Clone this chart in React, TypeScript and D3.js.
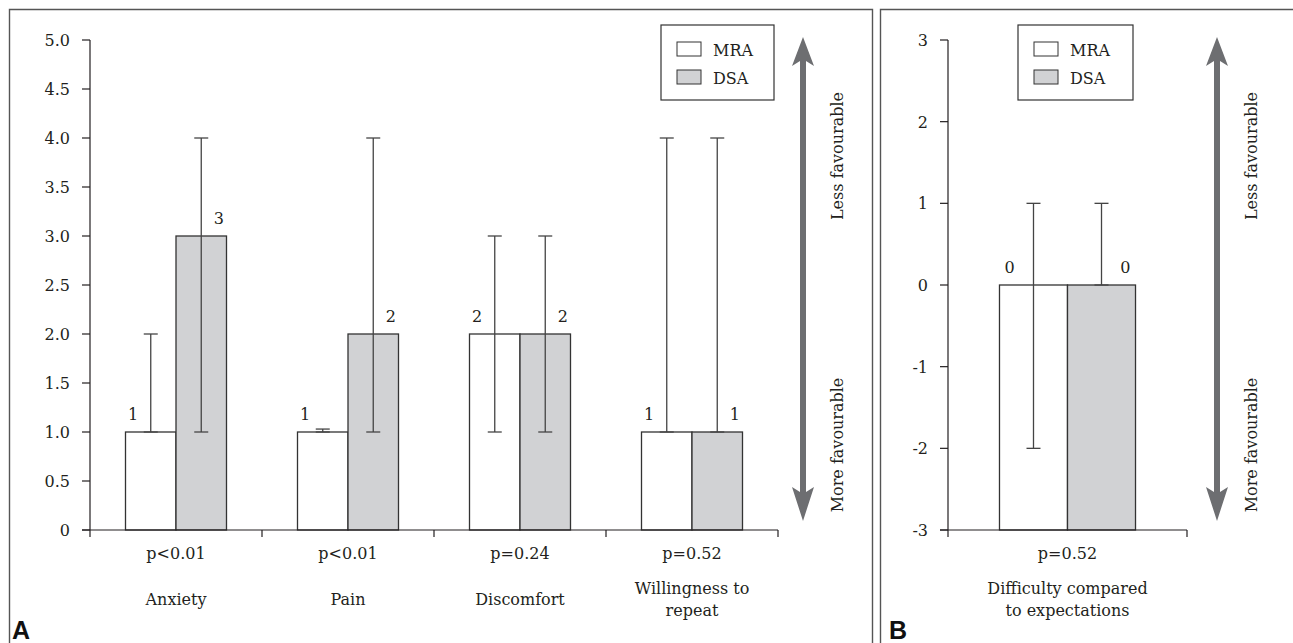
import React, { useEffect, useRef } from 'react';
import * as d3 from 'd3';

const series = ['MRA', 'DSA'];

const categoriesA = [['Anxiety'], ['Pain'], ['Discomfort'], ['Willingness to', 'repeat']];
const pValuesA = ['p<0.01', 'p<0.01', 'p=0.24', 'p=0.52'];
const mraA = [1, 1, 2, 1];
const dsaA = [3, 2, 2, 1];
const mraLowA = [1, 1, 1, 1];
const mraHighA = [2, 1.03, 3, 4];
const dsaLowA = [1, 1, 1, 1];
const dsaHighA = [4, 4, 3, 4];
const ticksA = [0, 0.5, 1, 1.5, 2, 2.5, 3, 3.5, 4, 4.5, 5];

const categoriesB = [['Difficulty compared', 'to expectations']];
const pValuesB = ['p=0.52'];
const mraB = [0];
const dsaB = [0];
const mraLowB = [-2];
const mraHighB = [1];
const dsaLowB = [0];
const dsaHighB = [1];
const ticksB = [-3, -2, -1, 0, 1, 2, 3];

const FONT = '"DejaVu Serif", serif';
const FS = 16;
const INK = '#231f20';
const GREY = '#d1d2d4';
const ARROW = '#6d6e71';

const drawPanel = (svg, p) => {
	const g = svg.append('g');
	const x = d3.scaleBand().domain(p.categories.map((d, i) => i)).range([p.left, p.right]);
	const inner = d3.scaleBand().domain(series).range([0, x.bandwidth()])
		.paddingOuter(p.outer);
	const y = d3.scaleLinear().domain(p.domain).range([530, 40]);
	const base = y(p.domain[0]);
	const bw = inner.bandwidth();
	const txt = (sel) => sel.style('font-family', FONT).attr('font-size', FS).attr('fill', INK);

	// y axis
	g.append('line').attr('x1', p.left).attr('x2', p.left)
		.attr('y1', y(p.domain[1])).attr('y2', base)
		.attr('stroke', INK).attr('stroke-width', 1.2);
	const yt = g.selectAll('.yt').data(p.ticks).enter().append('g');
	yt.append('line').attr('x1', p.left - 8).attr('x2', p.left)
		.attr('y1', (d) => y(d)).attr('y2', (d) => y(d))
		.attr('stroke', INK).attr('stroke-width', 1.2);
	yt.append('text').attr('x', p.left - 20).attr('y', (d) => y(d) + 6)
		.attr('text-anchor', 'end').call(txt)
		.text(p.fmt);

	const data = p.categories.map((c, i) => ({
		i,
		values: [
			{ s: 'MRA', v: p.mra[i], lo: p.mraLow[i], hi: p.mraHigh[i], fill: '#fff' },
			{ s: 'DSA', v: p.dsa[i], lo: p.dsaLow[i], hi: p.dsaHigh[i], fill: GREY }
		]
	}));
	const groups = g.selectAll('.grp').data(data).enter().append('g')
		.attr('transform', (d) => `translate(${ x(d.i) },0)`);
	const bars = groups.selectAll('.bar').data((d) => d.values).enter().append('g');
	bars.append('rect').attr('x', (d) => inner(d.s)).attr('width', bw)
		.attr('y', (d) => y(d.v)).attr('height', (d) => base - y(d.v))
		.attr('fill', (d) => d.fill).attr('stroke', '#333').attr('stroke-width', 1.3);
	const cx = (d) => inner(d.s) + bw / 2;
	bars.append('line').attr('x1', cx).attr('x2', cx)
		.attr('y1', (d) => y(d.lo)).attr('y2', (d) => y(d.hi))
		.attr('stroke', '#444').attr('stroke-width', 1.3);
	['lo', 'hi'].forEach((k) => {
		bars.append('line').attr('x1', (d) => cx(d) - 7).attr('x2', (d) => cx(d) + 7)
			.attr('y1', (d) => y(d[k])).attr('y2', (d) => y(d[k]))
			.attr('stroke', '#444').attr('stroke-width', 1.3);
	});
	bars.append('text')
		.attr('x', (d) => (d.s === 'MRA' ? inner(d.s) + bw * 0.15 : inner(d.s) + bw * 0.85))
		.attr('y', (d) => y(d.v) - 12)
		.attr('text-anchor', 'middle').call(txt)
		.text((d) => String(d.v));

	// x axis
	g.append('line').attr('x1', p.left - 8).attr('x2', p.right)
		.attr('y1', base).attr('y2', base).attr('stroke', INK).attr('stroke-width', 1.2);
	g.selectAll('.xt').data(d3.range(p.categories.length + 1)).enter().append('line')
		.attr('x1', (d) => p.left + d * x.step()).attr('x2', (d) => p.left + d * x.step())
		.attr('y1', base).attr('y2', base + 7).attr('stroke', INK).attr('stroke-width', 1.2);
	groups.append('text').attr('x', x.bandwidth() / 2).attr('y', 559)
		.attr('text-anchor', 'middle').call(txt)
		.text((d) => p.pvals[d.i]);
	groups.each(function (d) {
		const lines = p.categories[d.i];
		const top = lines.length === 1 ? 605 : 594;
		lines.forEach((l, j) => {
			d3.select(this).append('text').attr('x', x.bandwidth() / 2).attr('y', top + j * 21.5)
				.attr('text-anchor', 'middle').call(txt)
				.text(l);
		});
	});

	// legend
	const lg = g.append('g').attr('transform', `translate(${ p.legendX },25)`);
	lg.append('rect').attr('width', p.legendW).attr('height', 75)
		.attr('fill', '#fff').attr('stroke', '#333').attr('stroke-width', 1.2);
	series.forEach((s, i) => {
		lg.append('rect').attr('x', 16).attr('y', 17 + i * 28).attr('width', 24).attr('height', 14)
			.attr('fill', i ? GREY : '#fff').attr('stroke', '#333').attr('stroke-width', 1);
		lg.append('text').attr('x', 52).attr('y', 31 + i * 28).call(txt).text(s);
	});

	// direction arrow
	const ax = p.arrowX;
	const path = d3.path();
	path.moveTo(ax, 37);
	path.lineTo(ax + 11, 66);
	path.lineTo(ax + 3, 61);
	path.lineTo(ax + 3, 492);
	path.lineTo(ax + 11, 487);
	path.lineTo(ax, 521);
	path.lineTo(ax - 11, 487);
	path.lineTo(ax - 3, 492);
	path.lineTo(ax - 3, 61);
	path.lineTo(ax - 11, 66);
	path.closePath();
	g.append('path').attr('d', path.toString()).attr('fill', ARROW);
	[['Less favourable', 156], ['More favourable', 445]].forEach(([t, cy]) => {
		g.append('text').attr('transform', `translate(${ ax + 40 },${ cy }) rotate(-90)`)
			.attr('text-anchor', 'middle').call(txt)
			.text(t);
	});
};

const App = () => {
	const ref = useRef(null);

	useEffect(() => {
		document.body.style.margin = '0';
		const svg = d3.select(ref.current);
		svg.selectAll('*').remove();
		svg.append('rect').attr('width', 1293).attr('height', 643).attr('fill', '#fff');

		// panel frames
		svg.append('path').attr('d', 'M9.5,650 V9.5 H872.5 V650')
			.attr('fill', 'none').attr('stroke', '#555').attr('stroke-width', 1.4);
		svg.append('path').attr('d', 'M880.5,650 V9.5 H1300')
			.attr('fill', 'none').attr('stroke', '#555').attr('stroke-width', 1.4);

		drawPanel(svg, {
			categories: categoriesA, pvals: pValuesA, mra: mraA, dsa: dsaA,
			mraLow: mraLowA, mraHigh: mraHighA, dsaLow: dsaLowA, dsaHigh: dsaHighA,
			ticks: ticksA, domain: [0, 5], fmt: (d) => (d === 0 ? '0' : d.toFixed(1)),
			left: 90, right: 778, outer: 0.703, legendX: 661, legendW: 113, arrowX: 803
		});
		drawPanel(svg, {
			categories: categoriesB, pvals: pValuesB, mra: mraB, dsa: dsaB,
			mraLow: mraLowB, mraHigh: mraHighB, dsaLow: dsaLowB, dsaHigh: dsaHighB,
			ticks: ticksB, domain: [-3, 3], fmt: (d) => String(d),
			left: 948, right: 1187, outer: 0.757, legendX: 1018, legendW: 115, arrowX: 1217
		});

		['A', 'B'].forEach((t, i) => {
			svg.append('text').attr('x', i ? 889 : 12).attr('y', 639)
				.style('font-family', 'Arial, "Liberation Sans", sans-serif')
				.attr('font-weight', 'bold').attr('font-size', 25).attr('fill', '#111').text(t);
		});
	}, []);

	return (
		<svg ref={ ref } width={ 1293 } height={ 643 } style={ { display: 'block' } }/>
	);
};

export default App;
